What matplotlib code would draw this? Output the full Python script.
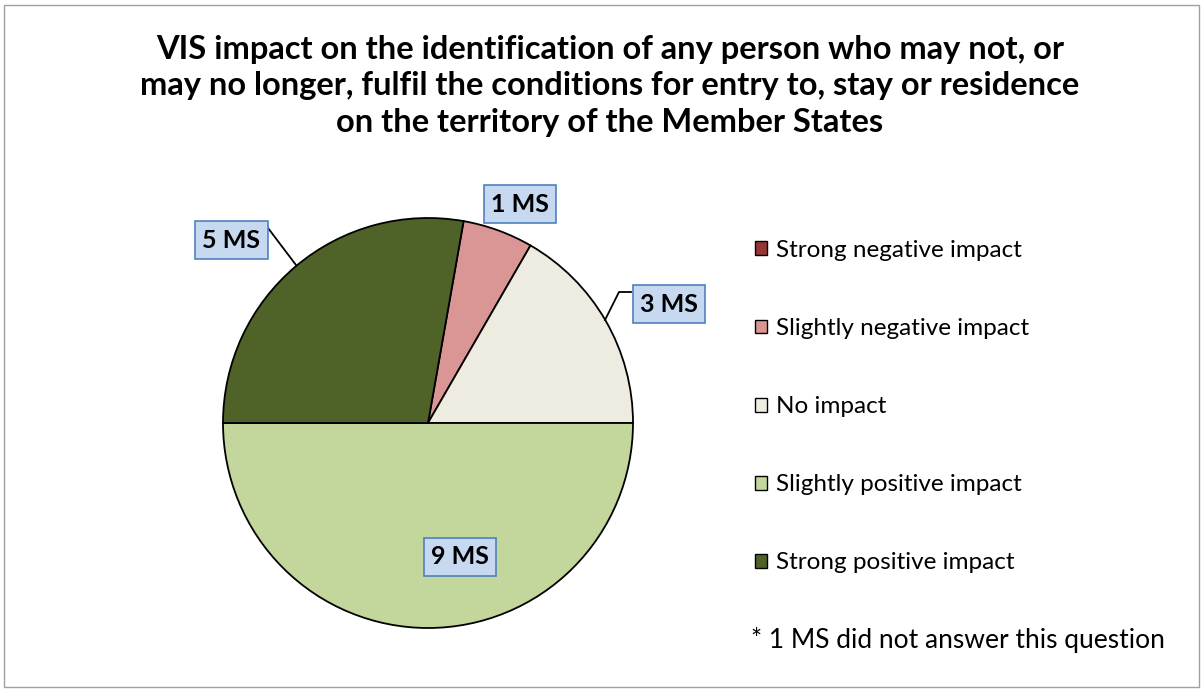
import matplotlib
matplotlib.use("Agg")
import matplotlib.pyplot as plt
from matplotlib.patches import Rectangle, Patch

plt.rcParams['font.family'] = ['Lato', 'DejaVu Sans']

categories = ["Strong negative impact", "Slightly negative impact", "No impact",
              "Slightly positive impact", "Strong positive impact"]
values = [0, 1, 3, 9, 5]
colors = ["#953735", "#D99694", "#EEECE1", "#C3D69B", "#4F6228"]
title = ("VIS impact on the identification of any person who may not, or\n"
         "may no longer, fulfil the conditions for entry to, stay or residence\n"
         "on the territory of the Member States")
footnote = "* 1 MS did not answer this question"

W, H = 1204, 691
fig = plt.figure(figsize=(W / 100, H / 100), dpi=100)

# outer border
fig.patches.append(Rectangle((4 / W, 4 / H), 1 - 9 / W, 1 - 9 / H, transform=fig.transFigure,
                             fill=False, edgecolor="#A0A0A0", linewidth=1.0))

cx, cy, r = 428, 423, 205
ax = fig.add_axes([(cx - r) / W, (H - cy - r) / H, 2 * r / W, 2 * r / H])
wedges, _ = ax.pie(values, colors=colors, startangle=80, counterclock=False, radius=1,
                   wedgeprops=dict(edgecolor="black", linewidth=1.3))
ax.set_xlim(-1, 1)
ax.set_ylim(-1, 1)
ax.set_aspect("equal")
ax.axis("off")

def px(x, y):
    return ((x - cx) / r, (cy - y) / r)

# label positions (pixel centers) for each non-zero slice
label_pos = {1: (520, 204), 2: (669, 304), 3: (460, 557), 4: (231, 240)}
bbox = dict(boxstyle="square,pad=0.3", facecolor="#C6D9F1", edgecolor="#4F81BD", linewidth=1.2)
for i, (cxp, cyp) in label_pos.items():
    ax.text(*px(cxp, cyp), f"{values[i]} MS", ha="center", va="center", fontsize=18,
            fontweight="bold", bbox=bbox, zorder=5, clip_on=False)

# leader lines
ax.plot(*zip(px(268, 228), px(296, 265)), color="black", lw=1.3, clip_on=False, zorder=4)
ax.plot(*zip(px(631, 292), px(619, 292), px(605, 320)), color="black", lw=1.3, clip_on=False, zorder=4)

fig.text(610 / W, 1 - 86 / H, title, ha="center", va="center", fontsize=23.5,
         fontweight="bold", linespacing=1.33)

handles = [Patch(facecolor=c, edgecolor="black", linewidth=1.0) for c in colors]
leg = fig.legend(handles, categories, loc="upper left", bbox_to_anchor=(755 / W, 1 - 240 / H),
                 frameon=False, fontsize=17.5, handlelength=0.5, handleheight=0.5,
                 handletextpad=0.35, labelspacing=2.35, borderaxespad=0, borderpad=0)

fig.text(1165 / W, 1 - 640 / H, footnote, ha="right", va="center", fontsize=19)

fig.savefig("out.png", dpi=100)
